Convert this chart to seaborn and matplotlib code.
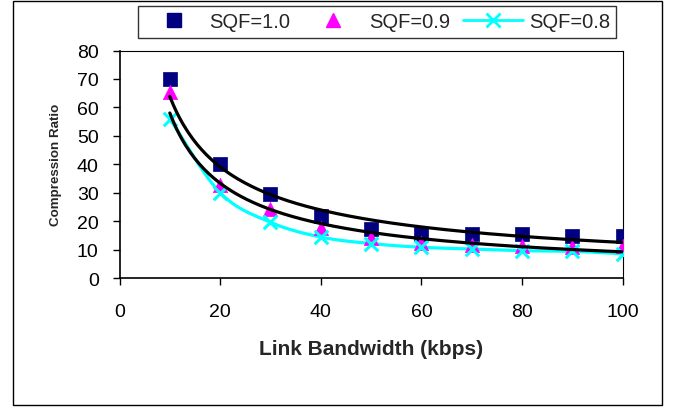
import numpy as np
import pandas as pd
import matplotlib
matplotlib.use("Agg")
import matplotlib.pyplot as plt
import seaborn as sns
from matplotlib.patches import Rectangle
from matplotlib.lines import Line2D

# ---- data ----
bandwidth = [10, 20, 30, 40, 50, 60, 70, 80, 90, 100]
sqf_10 = [70, 40, 29.6, 21.8, 17.4, 15.6, 15.5, 15.3, 14.9, 14.7]
sqf_09 = [65.3, 32.7, 24.1, 17.6, 13.9, 12.4, 11.5, 11.2, 10.9, 11.2]
sqf_08 = [55.9, 30.0, 19.6, 14.4, 12.1, 10.8, 10.2, 9.6, 9.4, 8.5]
series_names = ["SQF=1.0", "SQF=0.9", "SQF=0.8"]
x_ticks = [0, 20, 40, 60, 80, 100]
y_ticks = [0, 10, 20, 30, 40, 50, 60, 70, 80]

sns.set_theme(style="white")
plt.rcParams['font.family'] = ['Liberation Sans', 'DejaVu Sans']

fig = plt.figure(figsize=(6.77, 4.10), dpi=100)
fig.patch.set_facecolor("white")
fig.patches.append(Rectangle((13/677, 1-406/410), 649/677, 404/410,
                             transform=fig.transFigure, fill=False,
                             edgecolor="black", linewidth=1.0))
ax = fig.add_axes([119.5/677, 1-279/410, (622.7-119.5)/677, (279-51.5)/410])

df = pd.DataFrame({"x": bandwidth * 3,
                   "y": sqf_10 + sqf_09 + sqf_08,
                   "s": [series_names[0]]*10 + [series_names[1]]*10 + [series_names[2]]*10})

x = np.array(bandwidth, float)

# smooth curve for SQF=0.8 (Catmull-Rom through the points)
def catmull(xs, ys, n=30):
    P = np.column_stack([xs, ys])
    P = np.vstack([P[0] + (P[0]-P[1]), P, P[-1] + (P[-1]-P[-2])])
    out = []
    t = np.linspace(0, 1, n)
    for i in range(1, len(P)-2):
        p0, p1, p2, p3 = P[i-1], P[i], P[i+1], P[i+2]
        tt = t[:, None]
        c = 0.5*((2*p1) + (-p0+p2)*tt + (2*p0-5*p1+4*p2-p3)*tt**2 + (-p0+3*p1-3*p2+p3)*tt**3)
        out.append(c)
    return np.vstack(out)

c = catmull(x, np.array(sqf_08))
sns.lineplot(x=c[:, 0], y=c[:, 1], ax=ax, color="#00FFFF", lw=2.3, sort=False, zorder=2)

sns.scatterplot(data=df[df.s == series_names[0]], x="x", y="y", marker="s", s=112,
                color="#000080", edgecolor="#000080", linewidth=0.5, ax=ax, zorder=3, legend=False)
sns.scatterplot(data=df[df.s == series_names[1]], x="x", y="y", marker="^", s=105,
                color="#FF00FF", edgecolor="#FF00FF", linewidth=0.5, ax=ax, zorder=3, legend=False)
sns.scatterplot(data=df[df.s == series_names[2]], x="x", y="y", marker="x", s=95,
                color="#00FFFF", linewidth=2.2, ax=ax, zorder=4, legend=False)

# power trendlines for SQF=1.0 and 0.9
xf = np.linspace(10, 100, 200)
for ys in (sqf_10, sqf_09):
    b, a = np.polyfit(np.log(x), np.log(np.array(ys)), 1)
    ax.plot(xf, np.exp(a) * xf**b, color="black", lw=2.3, zorder=5)

ax.set_xlim(0, 100)
ax.set_ylim(0, 80)
ax.set_xticks(x_ticks)
ax.set_yticks(y_ticks)
ax.tick_params(axis="both", direction="out", length=5, width=1, labelsize=14,
               color="black", labelcolor="black")
ax.tick_params(axis="x", pad=13)
ax.tick_params(axis="y", pad=10)
ax.xaxis.set_ticks_position("bottom")
ax.yaxis.set_ticks_position("left")
for sp in ax.spines.values():
    sp.set_color("black")
    sp.set_linewidth(0.8)
ax.spines["left"].set_linewidth(1.2)
ax.spines["bottom"].set_linewidth(1.2)
ax.grid(False)
ax.set_xlabel("Link Bandwidth (kbps)", fontsize=15, fontweight="bold", labelpad=14)
ax.set_ylabel("Compression Ratio", fontsize=9.6, fontweight="bold", labelpad=11)

handles = [Line2D([], [], ls="none", marker="s", ms=10.5, color="#000080"),
           Line2D([], [], ls="none", marker="^", ms=10.5, color="#FF00FF"),
           Line2D([], [], ls="-", lw=2, marker="x", ms=9.5, mew=2, color="#00FFFF")]
leg = fig.legend(handles, series_names, ncol=3, loc="center",
                 bbox_to_anchor=((139+615)/2/677, 1-23/410),
                 frameon=True, fancybox=False, fontsize=14.5, handlelength=2.95,
                 columnspacing=0.65, handletextpad=0.3, borderpad=0.3,
                 borderaxespad=0)
leg.get_frame().set_edgecolor("black")
leg.get_frame().set_linewidth(1.0)

fig.savefig("out.png", dpi=100, facecolor="white")
